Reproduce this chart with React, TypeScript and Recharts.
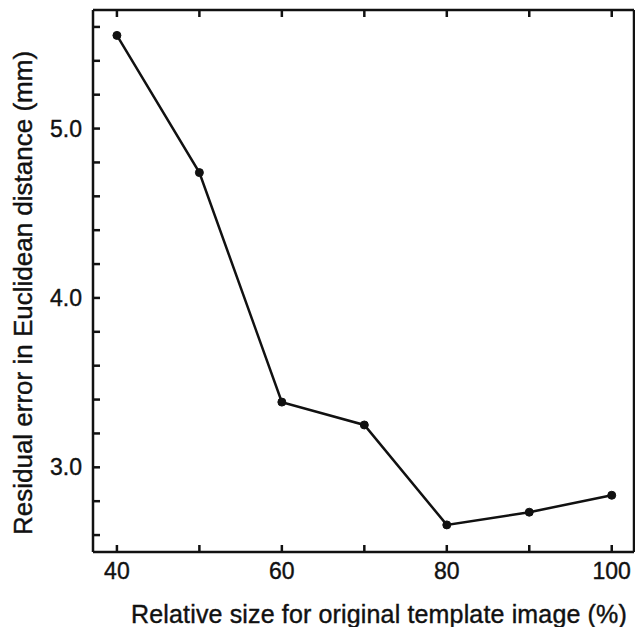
import { LineChart, Line, XAxis, YAxis } from 'recharts';

const sizes = [40, 50, 60, 70, 80, 90, 100];
const errors = [5.55, 4.74, 3.385, 3.25, 2.66, 2.735, 2.835];

const xTicks = [40, 50, 60, 70, 80, 90, 100];
const xLabelled = [40, 60, 80, 100];
const yTicks = [2.6, 2.8, 3.0, 3.2, 3.4, 3.6, 3.8, 4.0, 4.2, 4.4, 4.6, 4.8, 5.0, 5.2, 5.4, 5.6];
const yLabelled = [3, 4, 5];

const data = sizes.map((s, i) => ({ size: s, error: errors[i] }));

const font = '"Liberation Sans", Arial, sans-serif';
const ink = '#111';

const noTick = () => <g />;

export default function App() {
  return (
    <div style={{ position: 'absolute', left: 0, top: 0, background: '#fff' }}>
      <LineChart
        width={635}
        height={627}
        data={data}
        margin={{ top: 9, right: 0, bottom: 0, left: 0 }}
      >
        <XAxis
          xAxisId="b"
          dataKey="size"
          type="number"
          domain={[37.1, 102.7]}
          ticks={xTicks}
          tickFormatter={(v: number) => (xLabelled.includes(v) ? String(v) : '')}
          height={75}
          stroke={ink}
          strokeWidth={2.5}
          tickSize={-7}
          tickMargin={18}
          tick={{ fill: ink, fontSize: 23, fontFamily: font, stroke: ink, strokeWidth: 0.4 }}
          label={{
            content: ({ viewBox }: any) => (
              <text
                x={379}
                y={viewBox.y + 71}
                textAnchor="middle"
                fill={ink}
                stroke={ink}
                strokeWidth={0.4}
                fontSize={25}
                letterSpacing={0.15}
                fontFamily={font}
              >
                Relative size for original template image (%)
              </text>
            ),
          }}
        />
        <XAxis
          xAxisId="t"
          orientation="top"
          dataKey="size"
          type="number"
          domain={[37.1, 102.7]}
          ticks={xTicks}
          height={1}
          stroke={ink}
          strokeWidth={2.5}
          tickSize={-7}
          tick={noTick}
        />
        <YAxis
          yAxisId="l"
          type="number"
          domain={[2.5, 5.7]}
          ticks={yTicks}
          tickFormatter={(v: number) => (yLabelled.some((l) => Math.abs(l - v) < 1e-6) ? v.toFixed(1) : '')}
          width={93}
          stroke={ink}
          strokeWidth={2.5}
          tickSize={-7}
          tickMargin={18}
          tick={{ fill: ink, fontSize: 23, fontFamily: font, stroke: ink, strokeWidth: 0.4 }}
          label={{
            content: () => {
              const cx = 32;
              const cy = 293;
              return (
                <text
                  x={cx}
                  y={cy}
                  transform={`rotate(-90 ${cx} ${cy})`}
                  textAnchor="middle"
                  fill={ink}
                  stroke={ink}
                  strokeWidth={0.4}
                  fontSize={26}
                  fontFamily={font}
                >
                  Residual error in Euclidean distance (mm)
                </text>
              );
            },
          }}
        />
        <YAxis
          yAxisId="r"
          orientation="right"
          type="number"
          domain={[2.5, 5.7]}
          ticks={yTicks}
          width={1}
          stroke={ink}
          strokeWidth={2.5}
          tickSize={-5}
          tick={noTick}
        />
        <Line
          xAxisId="b"
          yAxisId="l"
          dataKey="error"
          stroke={ink}
          strokeWidth={2.5}
          dot={{ r: 4, fill: ink, stroke: ink, strokeWidth: 1 }}
          isAnimationActive={false}
        />
      </LineChart>
    </div>
  );
}
